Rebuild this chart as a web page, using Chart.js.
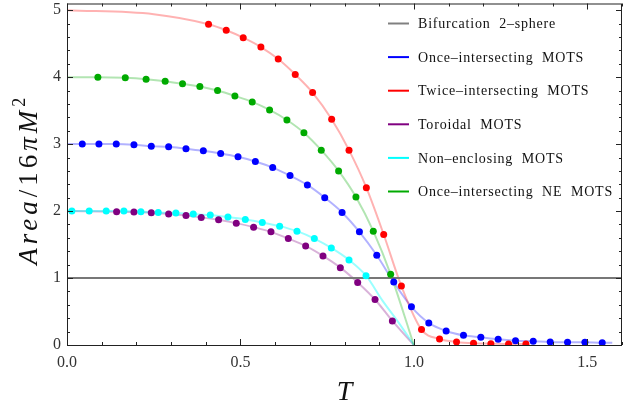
<!DOCTYPE html>
<html>
<head>
<meta charset="utf-8">
<script src="https://cdn.jsdelivr.net/npm/chart.js@4.4.0/dist/chart.umd.min.js"></script>
<style>
  html, body { margin: 0; padding: 0; background: #fff; }
  #wrap { width: 639px; height: 409px; }
</style>
</head>
<body>
<div id="wrap"><canvas id="area-chart"></canvas></div>
<script>
// Area of the MOTS against T

// Once-intersecting MOTS (blue)
const onceT = [0.044, 0.092, 0.142, 0.193, 0.243, 0.293, 0.343, 0.393, 0.443, 0.493, 0.543, 0.593, 0.643, 0.693, 0.743, 0.793, 0.843, 0.893, 0.942, 0.993, 1.043, 1.093, 1.143, 1.193, 1.243, 1.293, 1.344, 1.393, 1.443, 1.493, 1.543];
const onceA = [3.00, 3.00, 3.00, 2.99, 2.97, 2.96, 2.93, 2.90, 2.86, 2.81, 2.74, 2.65, 2.53, 2.39, 2.20, 1.98, 1.69, 1.34, 0.94, 0.57, 0.33, 0.21, 0.145, 0.115, 0.085, 0.065, 0.055, 0.045, 0.04, 0.04, 0.035];
const onceHeadT = [0], onceHeadA = [3.0];
const onceTailT = [1.572], onceTailA = [0.035];

// Twice-intersecting MOTS (red)
const twiceT = [0.408, 0.459, 0.508, 0.559, 0.609, 0.658, 0.708, 0.763, 0.813, 0.863, 0.913, 0.964, 1.022, 1.074, 1.123, 1.172, 1.222, 1.273, 1.323];
const twiceA = [4.79, 4.70, 4.59, 4.45, 4.27, 4.04, 3.77, 3.37, 2.91, 2.35, 1.65, 0.88, 0.23, 0.09, 0.045, 0.025, 0.02, 0.015, 0.015];
const twiceHeadT = [0, 0.25], twiceHeadA = [5.0, 4.94];
const twiceTailT = [], twiceTailA = [];

// Toroidal MOTS (purple)
const torT = [0.143, 0.193, 0.243, 0.293, 0.343, 0.387, 0.437, 0.488, 0.538, 0.588, 0.638, 0.688, 0.738, 0.788, 0.838, 0.888, 0.938];
const torA = [1.99, 1.985, 1.975, 1.955, 1.935, 1.905, 1.87, 1.82, 1.76, 1.69, 1.59, 1.48, 1.33, 1.155, 0.935, 0.68, 0.36];
const torHeadT = [0], torHeadA = [2.0];
const torTailT = [1.0], torTailA = [0];

// Non-enclosing MOTS (cyan)
const nonT = [0.014, 0.064, 0.113, 0.164, 0.213, 0.263, 0.314, 0.364, 0.413, 0.464, 0.514, 0.563, 0.613, 0.663, 0.713, 0.762, 0.813, 0.862];
const nonA = [2.00, 2.00, 2.00, 2.00, 1.99, 1.98, 1.97, 1.955, 1.94, 1.91, 1.875, 1.83, 1.775, 1.70, 1.59, 1.45, 1.27, 1.035];
const nonHeadT = [0], nonHeadA = [2.0];
const nonTailT = [0.909, 0.958, 1.0], nonTailA = [0.667, 0.32, 0];

// Once-intersecting NE MOTS (green)
const neT = [0.089, 0.168, 0.228, 0.283, 0.333, 0.383, 0.434, 0.484, 0.534, 0.584, 0.634, 0.683, 0.733, 0.783, 0.833, 0.883, 0.933];
const neA = [4.00, 3.99, 3.97, 3.94, 3.90, 3.86, 3.80, 3.72, 3.63, 3.51, 3.36, 3.17, 2.91, 2.60, 2.21, 1.70, 1.055];
const neHeadT = [0], neHeadA = [4.0];
const neTailT = [1.0], neTailA = [0];

// Bifurcation 2-sphere
const bifT = [0, 1.6];
const bifA = [1, 1];

const xTicks = [0, 0.5, 1.0, 1.5];
const yTicks = [0, 1, 2, 3, 4, 5];

const legendNames = ['Bifurcation  2\u2013sphere', 'Once\u2013intersecting  MOTS', 'Twice\u2013intersecting  MOTS', 'Toroidal  MOTS', 'Non\u2013enclosing  MOTS', 'Once\u2013intersecting  NE  MOTS'];
const legendColors = ['#808080', '#0000ff', '#ff0000', '#800080', '#00ffff', '#00aa00'];

const SERIF = '"Liberation Serif", "DejaVu Serif", serif';

function toPoints(ts, as) {
    return ts.map((t, i) => ({ x: t, y: as[i] }));
}

function lineSet(ts, as, color) {
    return {
        type: 'line',
        data: toPoints(ts, as),
        borderColor: color,
        borderWidth: 2,
        pointRadius: 0,
        fill: false,
        cubicInterpolationMode: 'monotone',
        order: 2
    };
}

function dotSet(ts, as, color) {
    return {
        type: 'scatter',
        data: toPoints(ts, as),
        backgroundColor: color,
        borderWidth: 0,
        pointRadius: 3.5,
        pointHoverRadius: 3.5,
        showLine: false,
        order: 0
    };
}

const datasets = [
    lineSet(twiceHeadT.concat(twiceT, twiceTailT), twiceHeadA.concat(twiceA, twiceTailA), 'rgba(255,0,0,0.3)'),
    lineSet(neHeadT.concat(neT, neTailT), neHeadA.concat(neA, neTailA), 'rgba(0,170,0,0.3)'),
    lineSet(onceHeadT.concat(onceT, onceTailT), onceHeadA.concat(onceA, onceTailA), 'rgba(0,0,255,0.3)'),
    lineSet(nonHeadT.concat(nonT, nonTailT), nonHeadA.concat(nonA, nonTailA), 'rgba(0,255,255,0.4)'),
    lineSet(torHeadT.concat(torT, torTailT), torHeadA.concat(torA, torTailA), 'rgba(128,0,128,0.3)'),
    {
        type: 'line',
        data: toPoints(bifT, bifA),
        borderColor: '#777777',
        borderWidth: 2,
        pointRadius: 0,
        order: 1
    },
    dotSet(twiceT, twiceA, '#ff0000'),
    dotSet(neT, neA, '#00aa00'),
    dotSet(onceT, onceA, '#0000ff'),
    dotSet(nonT, nonA, '#00ffff'),
    dotSet(torT, torA, '#800080')
];

// frame, inward tick marks, axis titles and legend
const framePlugin = {
    id: 'frame',
    afterDraw(chart) {
        const ctx = chart.ctx;
        const a = chart.chartArea;
        const xs = chart.scales.x, ys = chart.scales.y;
        ctx.save();
        ctx.strokeStyle = '#222';
        ctx.lineWidth = 1;
        ctx.strokeRect(a.left + 0.5, a.top + 0.5, a.right - a.left - 1, a.bottom - a.top);

        ctx.beginPath();
        for (let i = 0; i <= 16; i++) {
            const px = Math.round(xs.getPixelForValue(i / 10)) + 0.5;
            const len = i % 5 === 0 ? 6 : 3;
            ctx.moveTo(px, a.bottom); ctx.lineTo(px, a.bottom - len);
            ctx.moveTo(px, a.top); ctx.lineTo(px, a.top + len);
        }
        for (let i = 0; i <= 25; i++) {
            const py = Math.round(ys.getPixelForValue(i / 5)) + 0.5;
            const len = i % 5 === 0 ? 6 : 3;
            ctx.moveTo(a.left, py); ctx.lineTo(a.left + len, py);
            ctx.moveTo(a.right, py); ctx.lineTo(a.right - len, py);
        }
        ctx.stroke();

        // x title
        ctx.fillStyle = '#111';
        ctx.font = 'italic 28px ' + SERIF;
        ctx.textAlign = 'center';
        ctx.textBaseline = 'alphabetic';
        ctx.fillText('T', (a.left + a.right) / 2, 400);

        // y title: Area/16πM²
        ctx.save();
        ctx.translate(37, (a.top + a.bottom) / 2 + 5);
        ctx.rotate(-Math.PI / 2);
        const parts = [
            ['italic 27px ' + SERIF, 'Area'],
            ['27px ' + SERIF, '/16'],
            ['italic 27px ' + SERIF, '\u03c0M'],
            ['18px ' + SERIF, '2']
        ];
        ctx.letterSpacing = '4px';
        let total = 0;
        parts.forEach(p => { ctx.font = p[0]; total += ctx.measureText(p[1]).width; });
        let cx = -total / 2;
        ctx.textAlign = 'left';
        parts.forEach((p, i) => {
            ctx.font = p[0];
            ctx.fillText(p[1], cx, i === 3 ? -12 : 0);
            cx += ctx.measureText(p[1]).width;
        });
        ctx.restore();

        // legend
        ctx.font = '14px ' + SERIF;
        ctx.letterSpacing = '0.8px';
        ctx.textAlign = 'left';
        ctx.textBaseline = 'middle';
        ctx.lineWidth = 2;
        legendNames.forEach((name, i) => {
            const y = 23.5 + i * 33.6;
            ctx.strokeStyle = legendColors[i];
            ctx.beginPath();
            ctx.moveTo(388, y); ctx.lineTo(409, y);
            ctx.stroke();
            ctx.fillStyle = '#111';
            ctx.fillText(name, 418, y + 1);
        });
        ctx.restore();
    }
};

new Chart(document.getElementById('area-chart'), {
    data: { datasets: datasets },
    options: {
        responsive: true,
        maintainAspectRatio: false,
        animation: false,
        layout: { padding: { top: 3, right: 17, left: 0, bottom: 0 } },
        plugins: {
            legend: { display: false },
            tooltip: { enabled: false }
        },
        scales: {
            x: {
                type: 'linear',
                min: 0,
                max: 1.6,
                grid: { display: false, drawTicks: false },
                border: { display: false },
                ticks: {
                    stepSize: 0.5,
                    includeBounds: false,
                    color: '#333',
                    padding: 8,
                    font: { family: SERIF, size: 16 },
                    callback: v => xTicks.includes(v) ? v.toFixed(1) : ''
                },
                afterFit: s => {
                    s.height = 64;
                    s.paddingLeft = 0; s.paddingRight = 0;
                }
            },
            y: {
                type: 'linear',
                min: 0,
                max: 5.1,
                grid: { display: false, drawTicks: false },
                border: { display: false },
                ticks: {
                    stepSize: 1,
                    includeBounds: false,
                    color: '#333',
                    padding: 6,
                    font: { family: SERIF, size: 16 },
                    callback: v => yTicks.includes(v) ? String(v) : ''
                },
                afterFit: s => {
                    s.width = 67;
                    s.paddingTop = 0; s.paddingBottom = 0;
                }
            }
        }
    },
    plugins: [framePlugin]
});
</script>
</body>
</html>
